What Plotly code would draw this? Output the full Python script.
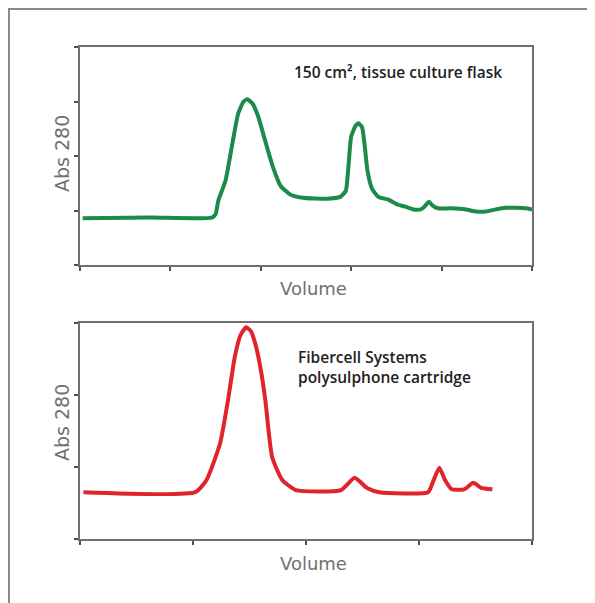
import plotly.graph_objects as go

# Top chart: 150 cm2 tissue culture flask (green)
flask_volume = [0.03, 0.78, 1.46, 1.50, 1.53, 1.61, 1.69, 1.75, 1.81, 1.85, 1.91, 1.97,
                2.05, 2.13, 2.22, 2.33, 2.44, 2.61, 2.77, 2.88, 2.94, 2.97, 3.00, 3.05,
                3.08, 3.12, 3.15, 3.18, 3.23, 3.30, 3.41, 3.51, 3.60, 3.69, 3.77, 3.81,
                3.86, 3.90, 3.96, 4.10, 4.27, 4.38, 4.49, 4.60, 4.71, 4.82, 4.93, 5.00]
flask_abs = [0.86, 0.87, 0.87, 0.93, 1.18, 1.55, 2.27, 2.78, 3.00, 3.04, 2.96, 2.73,
             2.27, 1.82, 1.45, 1.29, 1.24, 1.22, 1.22, 1.25, 1.36, 1.82, 2.36, 2.56,
             2.60, 2.53, 2.18, 1.73, 1.40, 1.25, 1.20, 1.11, 1.07, 1.02, 1.02, 1.07,
             1.16, 1.09, 1.04, 1.04, 1.02, 0.98, 0.98, 1.02, 1.05, 1.05, 1.04, 1.02]

# Bottom chart: Fibercell Systems polysulphone cartridge (red)
cart_volume = [0.03, 1.02, 1.12, 1.24, 1.31, 1.37, 1.42, 1.47, 1.51, 1.55, 1.60, 1.64,
               1.70, 1.79, 1.91, 2.31, 2.43, 2.54, 2.65, 3.08, 3.13, 3.18, 3.23, 3.29,
               3.40, 3.48, 3.55, 3.65]
cart_abs = [0.65, 0.65, 0.82, 1.33, 1.93, 2.53, 2.83, 2.94, 2.89, 2.72, 2.35, 1.93,
            1.14, 0.82, 0.68, 0.68, 0.85, 0.71, 0.65, 0.65, 0.82, 0.99, 0.82, 0.69,
            0.69, 0.78, 0.71, 0.69]

top_xticks = [0, 1, 2, 3, 4, 5]
top_yticks = [0, 1, 2, 3, 4]
bot_xticks = [0, 1, 2, 3, 4]
bot_yticks = [0, 1, 2, 3]

# page body has an 8px margin; figure is sized to fit the remaining window
OFF = 8
W, H = 595 - OFF, 603 - OFF
def px(x):
    return (x - OFF) / W
def py(y):
    return 1 - (y - OFF) / H

fig = go.Figure()
fig.add_trace(go.Scatter(x=flask_volume, y=flask_abs, mode="lines",
                         line=dict(color="#1c8a48", width=4, shape="spline", smoothing=0.5),
                         xaxis="x", yaxis="y", showlegend=False, hoverinfo="skip"))
fig.add_trace(go.Scatter(x=cart_volume, y=cart_abs, mode="lines",
                         line=dict(color="#e0242b", width=4, shape="spline", smoothing=0.5),
                         xaxis="x2", yaxis="y2", showlegend=False, hoverinfo="skip"))

axis_common = dict(showline=True, mirror=True, linecolor="#707070", linewidth=1.5,
                   ticks="outside", ticklen=4, tickcolor="#505050", tickwidth=1.5,
                   showticklabels=False, showgrid=False, zeroline=False, fixedrange=True)

dom_x = [px(80), px(532)]
fig.update_layout(
    width=W, height=H,
    margin=dict(l=0, r=0, t=0, b=0),
    paper_bgcolor="white", plot_bgcolor="white",
    xaxis=dict(domain=dom_x, range=[0, 5], tickvals=top_xticks, anchor="y", **axis_common),
    yaxis=dict(domain=[py(265), py(47)], range=[0, 4], tickvals=top_yticks, anchor="x", **axis_common),
    xaxis2=dict(domain=dom_x, range=[0, 4], tickvals=bot_xticks, anchor="y2", **axis_common),
    yaxis2=dict(domain=[py(539), py(323)], range=[0, 3], tickvals=bot_yticks, anchor="x2", **axis_common),
)

# outer frame
fig.add_shape(type="rect", xref="paper", yref="paper",
              x0=px(9), x1=px(591), y0=py(610), y1=py(9),
              line=dict(color="#8a8a8a", width=2))

title_font = dict(family="DejaVu Sans", size=18, color="#707070")

annots = [
    dict(text="Abs 280", x=px(62), y=py(154), textangle=-90, font=dict(title_font, size=19)),
    dict(text="Abs 280", x=px(62), y=py(423), textangle=-90, font=dict(title_font, size=19)),
    dict(text="Volume", x=px(313), y=py(288), font=title_font),
    dict(text="Volume", x=px(313), y=py(563), font=title_font),
]
for a in annots:
    fig.add_annotation(xref="paper", yref="paper", showarrow=False,
                       xanchor="center", yanchor="middle", **a)

label_font = dict(family="Open Sans", size=15.5, color="#222222", weight=600)
fig.add_annotation(xref="paper", yref="paper", showarrow=False, xanchor="left", yanchor="middle",
                   x=px(292), y=py(72), text="150 cm², tissue culture flask", font=label_font)
fig.add_annotation(xref="paper", yref="paper", showarrow=False, xanchor="left", yanchor="middle",
                   x=px(296), y=py(367), align="left",
                   text="Fibercell Systems<br>polysulphone cartridge",
                   font=label_font)

fig.write_html("out.html")
